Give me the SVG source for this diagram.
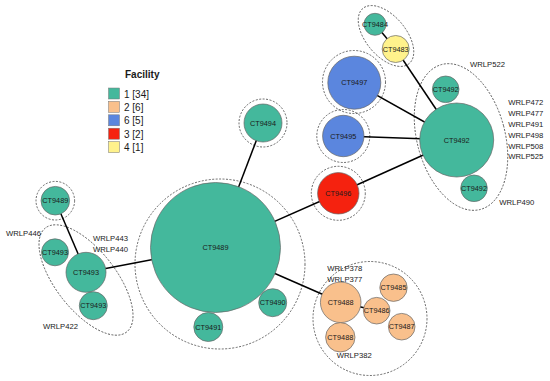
<svg xmlns="http://www.w3.org/2000/svg" width="550" height="381" viewBox="0 0 550 381">
<style>
text{font-family:"Liberation Sans",Arial,sans-serif;fill:#1a1a1a}
.lbl{font-size:7.3px;text-anchor:middle}
.wr{font-size:7.7px}
.leg{font-size:10px}
.n{stroke:#666;stroke-width:0.7}
.t{fill:#44B89C}.o{fill:#F9C08C}.b{fill:#5B86DE}.r{fill:#F5220F}.y{fill:#FFF28C}
.d{fill:none;stroke:#444;stroke-width:0.8;stroke-dasharray:2 1.5}
.e{stroke:#000;stroke-width:1.5;fill:none}
.sw{stroke:#777;stroke-width:0.5}
</style>
<rect width="550" height="381" fill="#fff"/>
<g id="legend">
<text x="125" y="78" class="leg" font-weight="bold">Facility</text>
<rect x="108.5" y="88" width="11" height="11" class="sw t"/><text x="124" y="97.5" class="leg">1 [34]</text>
<rect x="108.5" y="101.4" width="11" height="11" class="sw o"/><text x="124" y="110.9" class="leg">2 [6]</text>
<rect x="108.5" y="114.8" width="11" height="11" class="sw b"/><text x="124" y="124.3" class="leg">6 [5]</text>
<rect x="108.5" y="128.2" width="11" height="11" class="sw r"/><text x="124" y="137.7" class="leg">3 [2]</text>
<rect x="108.5" y="141.6" width="11" height="11" class="sw y"/><text x="124" y="151.1" class="leg">4 [1]</text>
</g>
<g id="groups">
<circle cx="220" cy="264" r="85" class="d"/>
<circle cx="55.3" cy="200.7" r="19.3" class="d"/>
<ellipse cx="86" cy="280" rx="66" ry="30" transform="rotate(52 86 280)" class="d"/>
<circle cx="263" cy="123" r="24" class="d"/>
<ellipse cx="386" cy="36" rx="36" ry="20" transform="rotate(50 386 36)" class="d"/>
<circle cx="354" cy="82" r="31.5" class="d"/>
<circle cx="343.3" cy="136" r="26.5" class="d"/>
<circle cx="338.3" cy="193.3" r="27" class="d"/>
<ellipse cx="461" cy="137" rx="44" ry="75" transform="rotate(-15 461 137)" class="d"/>
<circle cx="370" cy="318.5" r="57" class="d"/>
</g>
<g id="connectors">
<line x1="55.3" y1="200.7" x2="86" y2="272.3" class="e"/>
<line x1="86" y1="272.3" x2="215.5" y2="247.5" class="e"/>
<line x1="263" y1="123" x2="215.5" y2="247.5" class="e"/>
<line x1="215.5" y1="247.5" x2="338.3" y2="193.3" class="e"/>
<line x1="215.5" y1="247.5" x2="340.7" y2="302.3" class="e"/>
<line x1="338.3" y1="193.3" x2="456.7" y2="140" class="e"/>
<line x1="343.3" y1="136" x2="456.7" y2="140" class="e"/>
<line x1="354.3" y1="82.7" x2="456.7" y2="140" class="e"/>
<line x1="395.7" y1="49" x2="456.7" y2="140" class="e"/>
<line x1="375" y1="24.3" x2="395.7" y2="49" class="e" stroke-width="1"/>
<line x1="340.7" y1="302.3" x2="376.7" y2="310.7" class="e" stroke-width="1"/>
</g>
<g id="CT9489"><circle cx="215.5" cy="247.5" r="65" class="n t"/><text x="215.5" y="250" class="lbl">CT9489</text></g>
<g id="CT9490"><circle cx="272.7" cy="302.7" r="14" class="n t"/><text x="272.7" y="305.2" class="lbl">CT9490</text></g>
<g id="CT9491"><circle cx="208.3" cy="327" r="14.5" class="n t"/><text x="208.3" y="329.5" class="lbl">CT9491</text></g>
<g id="CT9489b"><circle cx="55.3" cy="200.7" r="14.3" class="n t"/><text x="55.3" y="203.2" class="lbl">CT9489</text></g>
<g id="CT9493"><circle cx="86" cy="272.3" r="20" class="n t"/><text x="86" y="274.8" class="lbl">CT9493</text></g>
<g id="CT9493b"><circle cx="55" cy="252.3" r="13.5" class="n t"/><text x="55" y="254.8" class="lbl">CT9493</text></g>
<g id="CT9493c"><circle cx="93.3" cy="305.7" r="14" class="n t"/><text x="93.3" y="308.2" class="lbl">CT9493</text></g>
<g id="CT9494"><circle cx="263" cy="123" r="19" class="n t"/><text x="263" y="125.5" class="lbl">CT9494</text></g>
<g id="CT9484"><circle cx="375" cy="24.3" r="11" class="n t"/><text x="375" y="26.8" class="lbl">CT9484</text></g>
<g id="CT9483"><circle cx="395.7" cy="49" r="13.5" class="n y"/><text x="395.7" y="51.5" class="lbl">CT9483</text></g>
<g id="CT9497"><circle cx="354.3" cy="82.7" r="26.5" class="n b"/><text x="354.3" y="85.2" class="lbl">CT9497</text></g>
<g id="CT9495"><circle cx="343.3" cy="136" r="20.7" class="n b"/><text x="343.3" y="138.5" class="lbl">CT9495</text></g>
<g id="CT9496"><circle cx="338.3" cy="193.3" r="20.7" class="n r"/><text x="338.3" y="195.8" class="lbl">CT9496</text></g>
<g id="CT9492"><circle cx="456.7" cy="140" r="37" class="n t"/><text x="456.7" y="142.5" class="lbl">CT9492</text></g>
<g id="CT9492b"><circle cx="445.7" cy="89.3" r="13.3" class="n t"/><text x="445.7" y="91.8" class="lbl">CT9492</text></g>
<g id="CT9492c"><circle cx="474" cy="188.3" r="13.3" class="n t"/><text x="474" y="190.8" class="lbl">CT9492</text></g>
<g id="CT9488"><circle cx="340.7" cy="302.3" r="20.3" class="n o"/><text x="340.7" y="304.8" class="lbl">CT9488</text></g>
<g id="CT9488b"><circle cx="340.3" cy="337.3" r="14.7" class="n o"/><text x="340.3" y="339.8" class="lbl">CT9488</text></g>
<g id="CT9486"><circle cx="376.7" cy="310.7" r="13.3" class="n o"/><text x="376.7" y="313.2" class="lbl">CT9486</text></g>
<g id="CT9485"><circle cx="393.5" cy="287.7" r="13.7" class="n o"/><text x="393.5" y="290.2" class="lbl">CT9485</text></g>
<g id="CT9487"><circle cx="401.7" cy="326.7" r="13.3" class="n o"/><text x="401.7" y="329.2" class="lbl">CT9487</text></g>
<g id="labels">
<text x="6" y="236" class="wr">WRLP446</text>
<text x="93" y="241" class="wr">WRLP443</text>
<text x="93" y="252" class="wr">WRLP440</text>
<text x="43" y="329" class="wr">WRLP422</text>
<text x="470" y="67" class="wr">WRLP522</text>
<text x="508.3" y="105.4" class="wr">WRLP472</text>
<text x="508.3" y="116.2" class="wr">WRLP477</text>
<text x="508.3" y="127" class="wr">WRLP491</text>
<text x="508.3" y="137.8" class="wr">WRLP498</text>
<text x="508.3" y="148.6" class="wr">WRLP508</text>
<text x="508.3" y="159.4" class="wr">WRLP525</text>
<text x="499.3" y="205" class="wr">WRLP490</text>
<text x="327.3" y="270.5" class="wr">WRLP378</text>
<text x="327.3" y="281.7" class="wr">WRLP377</text>
<text x="336.7" y="357.7" class="wr">WRLP382</text>
</g>
</svg>
